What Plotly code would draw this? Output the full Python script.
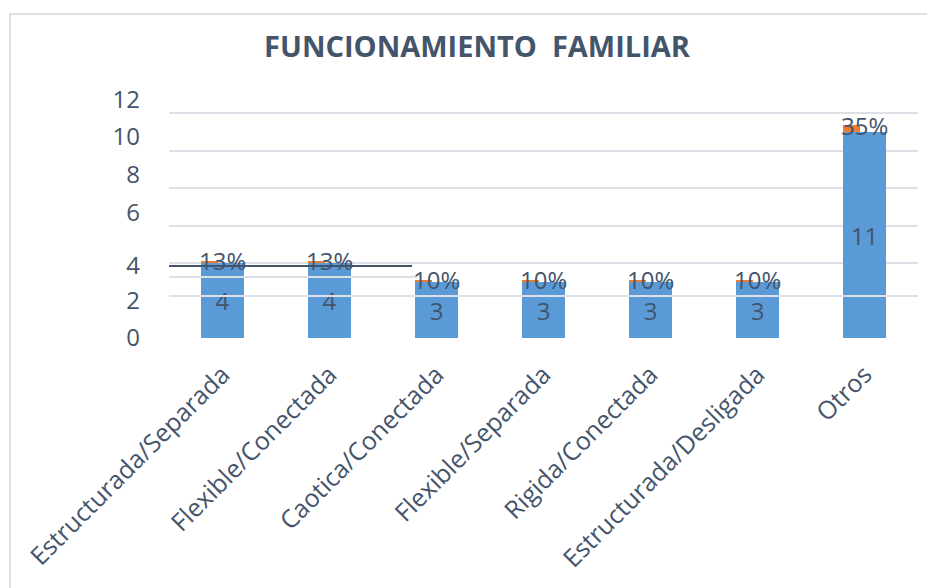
import plotly.graph_objects as go

categories = ["Estructurada/Separada", "Flexible/Conectada", "Caotica/Conectada",
              "Flexible/Separada", "Rigida/Conectada", "Estructurada/Desligada", "Otros"]
counts = [4, 4, 3, 3, 3, 3, 11]
shares = [0.13, 0.13, 0.10, 0.10, 0.10, 0.10, 0.35]
share_labels = ["13%", "13%", "10%", "10%", "10%", "10%", "35%"]
grid_values = [0, 4, 6, 8, 10, 12]
y_tick_labels = ["0", "2", "4", "6", "8", "10", "12"]
y_tick_pos = [0.03, 1.97, 3.87, 6.67, 8.72, 10.72, 12.69]

# the page body adds an 8px margin; work in window pixels and subtract it
OFF = 8
W, H = 935 - OFF, 588 - OFF
L, R = 169 - OFF, 918 - OFF
Y0 = 338 - OFF
UNIT = 18.75
YMAX = 12.8
T = Y0 - YMAX * UNIT
TXT = "#44546a"
GRID = "#dde1e7"
FONT = "Open Sans"

def px(x):
    return (x - OFF - L) / (R - L)

def py(y):
    return (Y0 - (y - OFF)) / (Y0 - T)

fig = go.Figure()
fig.add_trace(go.Bar(
    x=categories, y=counts, width=0.41, offset=-0.205,
    marker=dict(color="#5a9ad7", line=dict(width=0)),
    text=[str(v) for v in counts], textposition="inside",
    insidetextanchor="middle",
    textfont=dict(family=FONT, size=24, color=TXT),
    showlegend=False, yaxis="y",
))
fig.add_trace(go.Bar(
    x=categories, y=shares, base=counts, width=0.16, offset=-0.205,
    marker=dict(color="#ed7d31", line=dict(width=0)),
    showlegend=False, yaxis="y",
))
fig.add_trace(go.Scatter(x=categories, y=counts, mode="markers",
                         marker=dict(opacity=0), yaxis="y2",
                         showlegend=False, hoverinfo="skip"))

for c, v, s, lab in zip(categories, counts, shares, share_labels):
    fig.add_annotation(x=c, y=v + s, text=lab, showarrow=False,
                       xref="x", yref="y", yanchor="middle",
                       font=dict(family=FONT, size=24, color=TXT))

shapes = [
    dict(type="line", xref="paper", yref="paper", x0=0, x1=1, y0=py(296), y1=py(296),
         line=dict(color=GRID, width=2), layer="above"),
    dict(type="line", xref="paper", yref="paper", x0=0, x1=px(417), y0=py(277), y1=py(277),
         line=dict(color=GRID, width=2), layer="above"),
    dict(type="line", xref="paper", yref="paper", x0=0, x1=px(412), y0=py(266), y1=py(266),
         line=dict(color=TXT, width=2), layer="above"),
    dict(type="line", xref="paper", yref="paper", x0=px(9), x1=px(935), y0=py(14), y1=py(14),
         line=dict(color=GRID, width=2), layer="above"),
    dict(type="line", xref="paper", yref="paper", x0=px(10), x1=px(10), y0=py(14), y1=py(588),
         line=dict(color=GRID, width=2), layer="above"),
]

fig.update_layout(
    width=W, height=H,
    margin=dict(l=L, r=W - R, t=T, b=H - Y0, pad=0, autoexpand=False),
    paper_bgcolor="white", plot_bgcolor="white",
    barmode="overlay", bargap=0,
    title=dict(text="<b>FUNCIONAMIENTO  FAMILIAR</b>", x=(477 - OFF) / W, xanchor="center",
               y=1 - (47 - OFF) / H, yanchor="middle",
               font=dict(family=FONT, size=29, color=TXT)),
    xaxis=dict(type="category", tickangle=-45, showgrid=False, showline=False,
               zeroline=False, ticks="", automargin=False, ticklabelstandoff=16,
               tickfont=dict(family=FONT, size=25, color=TXT),
               range=[-0.5, 6.5]),
    yaxis=dict(range=[0, YMAX], tickvals=grid_values, showticklabels=False,
               showgrid=True, gridcolor=GRID, gridwidth=2, zeroline=False,
               showline=False, ticks="", automargin=False),
    yaxis2=dict(range=[0, YMAX], overlaying="y", side="left",
                tickvals=y_tick_pos, ticktext=y_tick_labels,
                showgrid=False, zeroline=False, showline=False, ticks="",
                ticklabelstandoff=28, automargin=False,
                tickfont=dict(family=FONT, size=24, color=TXT)),
    shapes=shapes,
    font=dict(family=FONT, color=TXT),
)

fig.write_html("out.html")
